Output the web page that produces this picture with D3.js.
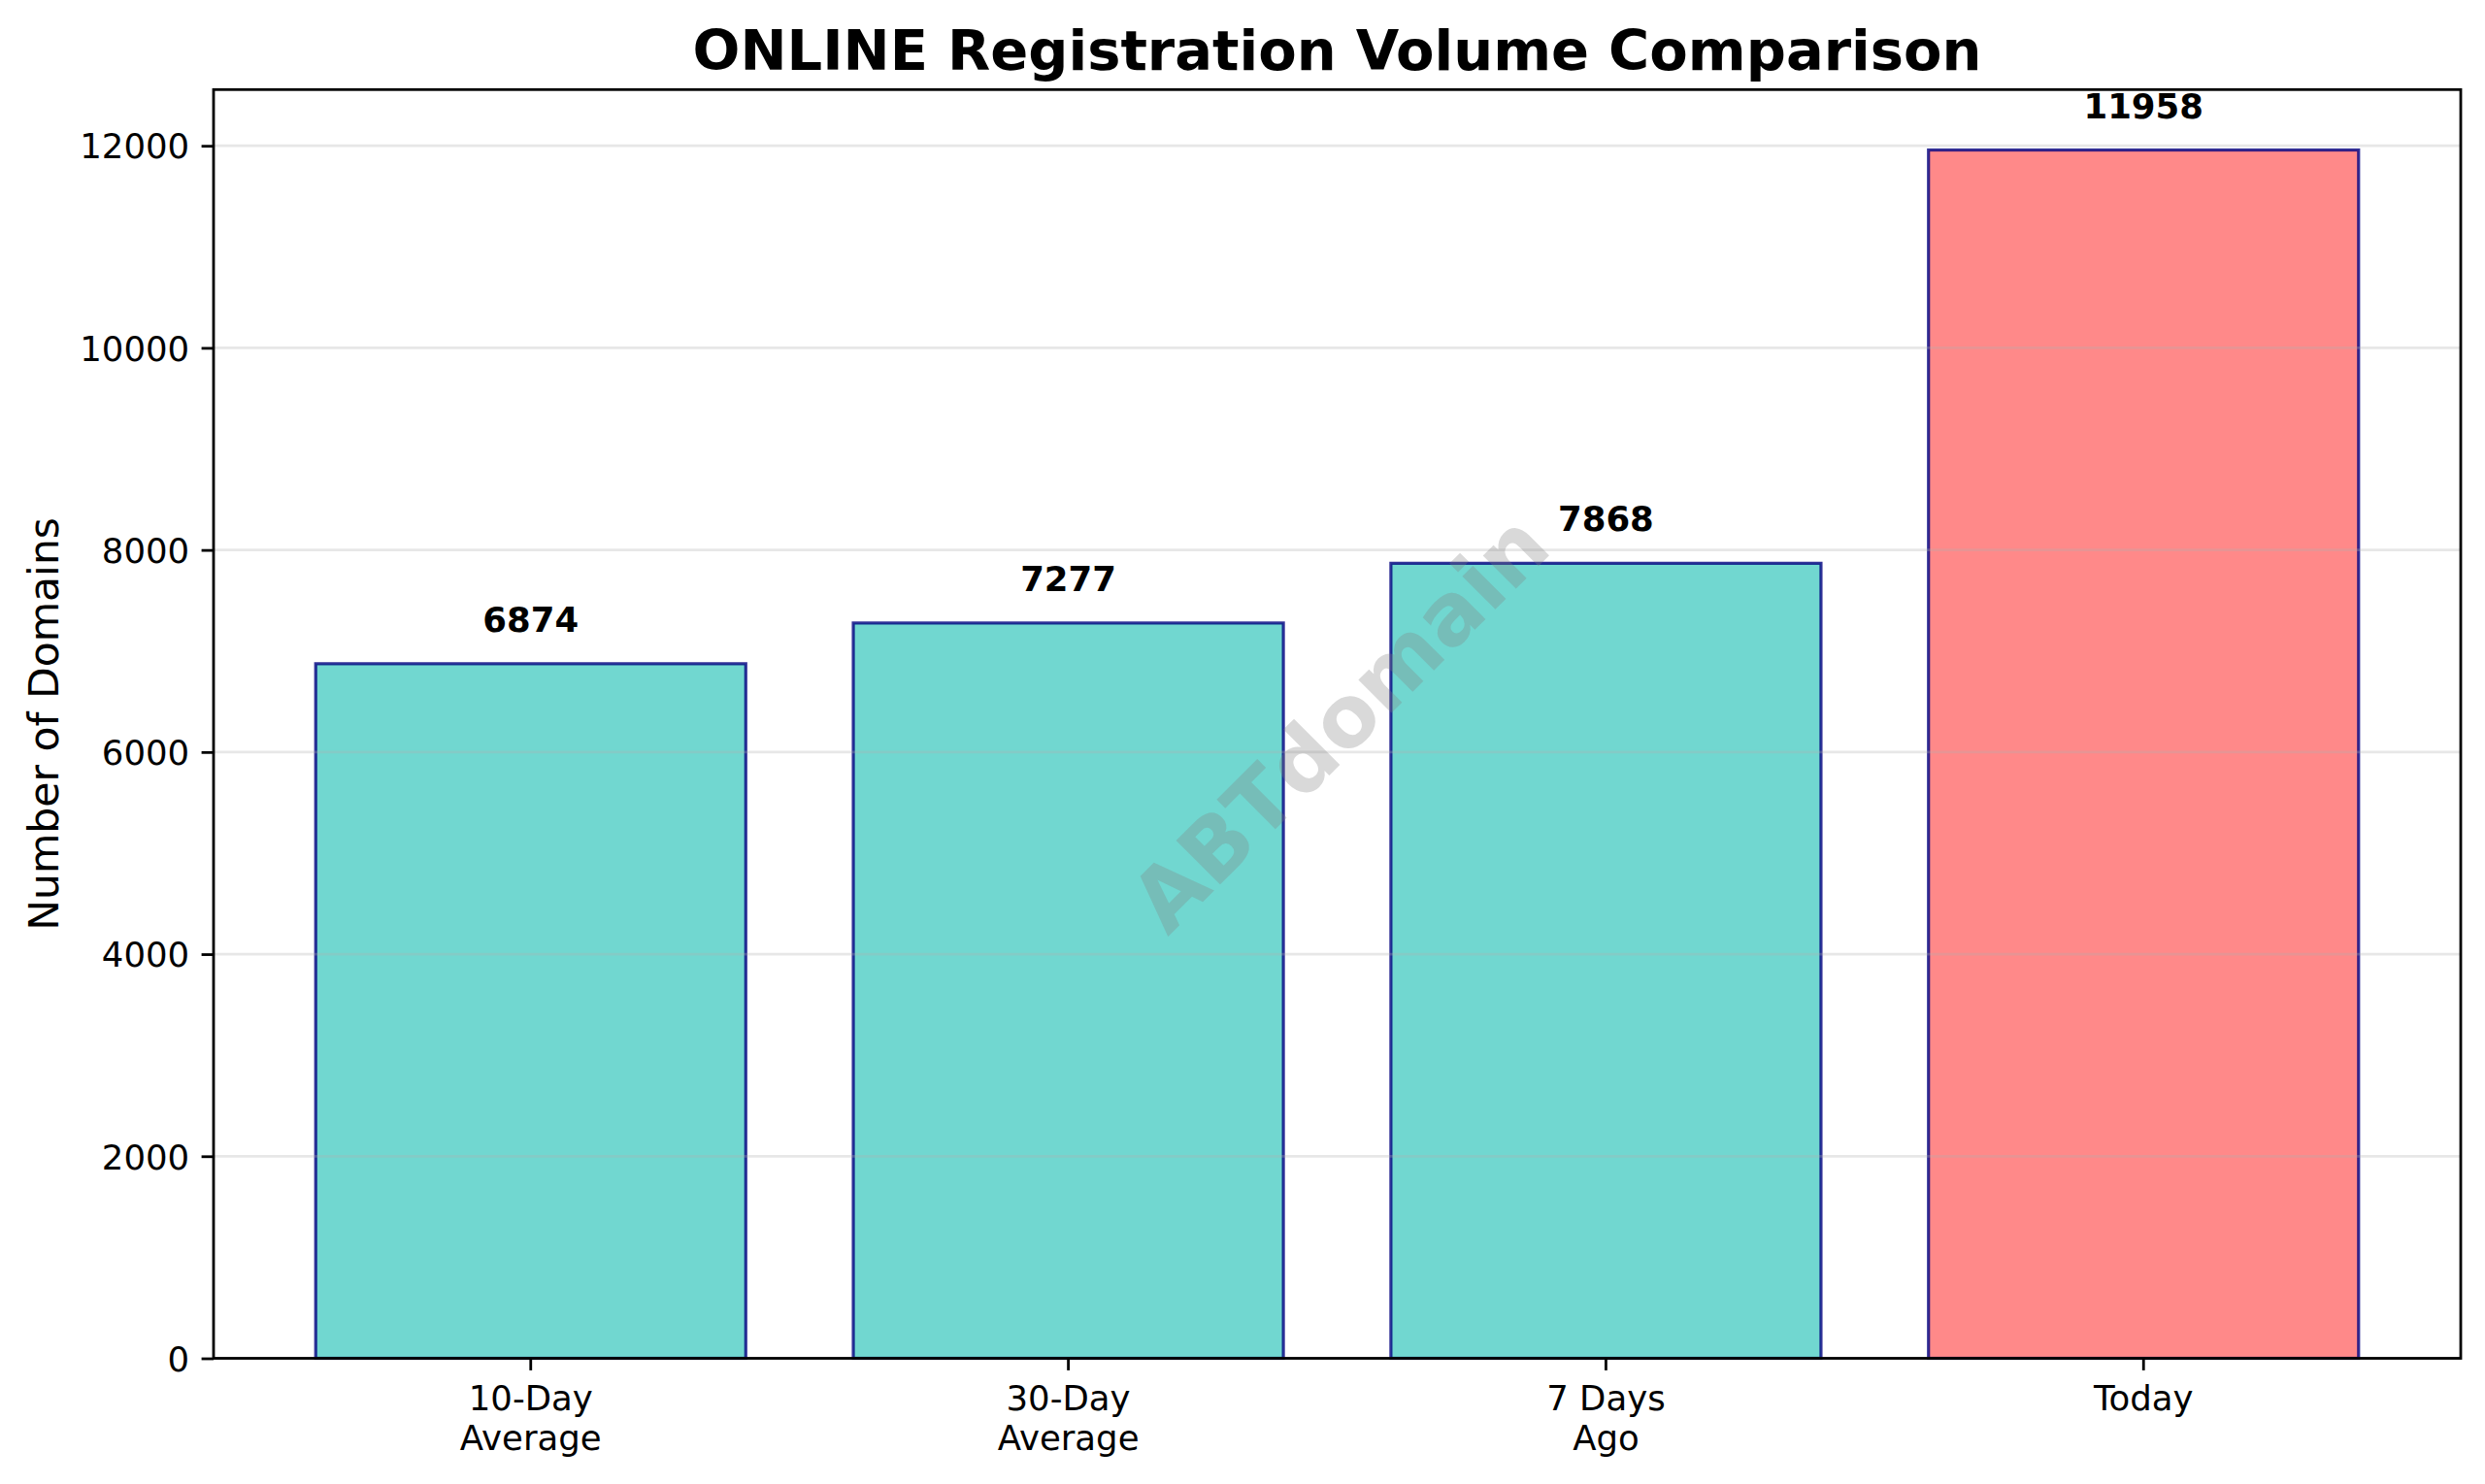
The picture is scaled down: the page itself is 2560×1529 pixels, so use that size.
<!DOCTYPE html>
<html>
<head>
<meta charset="utf-8">
<script src="https://cdn.jsdelivr.net/npm/d3@7"></script>
<style>
  html, body { margin: 0; padding: 0; background: #fff; }
  svg { display: block; }
  text { font-family: "DejaVu Sans", sans-serif; }
</style>
</head>
<body>
<svg id="chart" width="2560" height="1529"></svg>
<script>
// ---- data ----
const categories = ["10-Day\nAverage", "30-Day\nAverage", "7 Days\nAgo", "Today"];
const values = [6874, 7277, 7868, 11958];
const barColors = ["#4ECDC4", "#4ECDC4", "#4ECDC4", "#FF6B6B"];
const yTicks = [0, 2000, 4000, 6000, 8000, 10000, 12000];
const titleText = "ONLINE Registration Volume Comparison";
const yLabelText = "Number of Domains";
const watermarkText = "ABTdomain";

// ---- layout ----
const W = 2560, H = 1529;
const plotL = 220, plotR = 2535, plotT = 92.3, plotB = 1399.5;
const tickLen = 12.4, tickPad = 12.4;
const fs = 35.5;

const svg = d3.select("#chart");
svg.append("rect").attr("width", W).attr("height", H).attr("fill", "#fff");

const x = d3.scaleBand()
  .domain(d3.range(categories.length))
  .range([plotL, plotR])
  .paddingInner(0.2)
  .paddingOuter(0.19);

const yMax = d3.max(values) * 1.05;
const y = d3.scaleLinear().domain([0, yMax]).range([plotB, plotT]);

// bars
svg.append("g").selectAll("rect")
  .data(values)
  .join("rect")
  .attr("x", (d, i) => x(i))
  .attr("y", d => y(d))
  .attr("width", x.bandwidth())
  .attr("height", d => y(0) - y(d))
  .attr("fill", (d, i) => barColors[i])
  .attr("fill-opacity", 0.8)
  .attr("stroke", "navy")
  .attr("stroke-opacity", 0.8)
  .attr("stroke-width", 3.2);

// grid (drawn over bars, translucent)
svg.append("g").selectAll("line")
  .data(yTicks)
  .join("line")
  .attr("x1", plotL).attr("x2", plotR)
  .attr("y1", d => y(d)).attr("y2", d => y(d))
  .attr("stroke", "#b0b0b0")
  .attr("stroke-opacity", 0.3)
  .attr("stroke-width", 2.8);

// y axis
const yAxis = d3.axisLeft(y).tickValues(yTicks).tickFormat(d3.format("d"))
  .tickSize(tickLen).tickPadding(tickPad);
const gy = svg.append("g").attr("transform", `translate(${plotL},0)`).call(yAxis);
gy.select(".domain").remove();
gy.selectAll(".tick line").attr("stroke", "#000").attr("stroke-width", 2.8);
gy.selectAll(".tick text").attr("font-size", fs).attr("fill", "#000")
  .attr("font-family", "DejaVu Sans").attr("dy", "0.36em");

// x axis ticks
const xg = svg.append("g");
categories.forEach((c, i) => {
  const cx = x(i) + x.bandwidth() / 2;
  xg.append("line").attr("x1", cx).attr("x2", cx)
    .attr("y1", plotB).attr("y2", plotB + tickLen)
    .attr("stroke", "#000").attr("stroke-width", 2.8);
  const t = xg.append("text").attr("text-anchor", "middle")
    .attr("font-size", fs).attr("fill", "#000");
  c.split("\n").forEach((line, k) => {
    t.append("tspan").attr("x", cx).attr("y", 1453 + k * 41).text(line);
  });
});

// value labels
svg.append("g").selectAll("text")
  .data(values)
  .join("text")
  .attr("x", (d, i) => x(i) + x.bandwidth() / 2)
  .attr("y", d => y(d) - 33)
  .attr("text-anchor", "middle")
  .attr("font-size", fs)
  .attr("font-weight", "bold")
  .attr("fill", "#000")
  .text(d => d);

// watermark
svg.append("text")
  .attr("transform", `translate(${(plotL + plotR) / 2 + 2},${(plotT + plotB) / 2 - 2}) rotate(-45)`)
  .attr("text-anchor", "middle")
  .attr("dy", "0.36em")
  .attr("font-size", 88)
  .attr("font-weight", "bold")
  .attr("fill", "gray")
  .attr("fill-opacity", 0.3)
  .text(watermarkText);

// spines
svg.append("rect")
  .attr("x", plotL).attr("y", plotT)
  .attr("width", plotR - plotL).attr("height", plotB - plotT)
  .attr("fill", "none").attr("stroke", "#000").attr("stroke-width", 2.8);

// title
svg.append("text")
  .attr("x", (plotL + plotR) / 2).attr("y", 72)
  .attr("text-anchor", "middle")
  .attr("font-size", 57.5)
  .attr("font-weight", "bold")
  .attr("fill", "#000")
  .text(titleText);

// y label
svg.append("text")
  .attr("transform", `translate(60,${(plotT + plotB) / 2}) rotate(-90)`)
  .attr("text-anchor", "middle")
  .attr("font-size", 42.5)
  .attr("fill", "#000")
  .text(yLabelText);
</script>
</body>
</html>
